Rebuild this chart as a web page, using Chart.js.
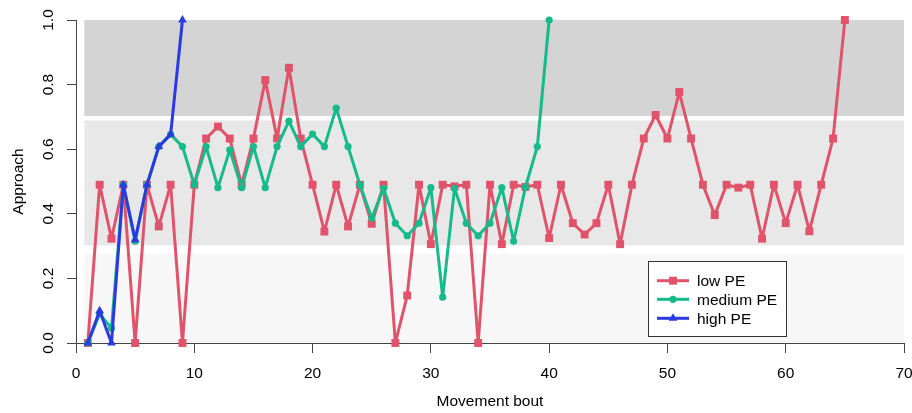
<!DOCTYPE html>
<html>
<head>
<meta charset="utf-8">
<script src="https://cdn.jsdelivr.net/npm/chart.js@4"></script>
<style>
html,body{margin:0;padding:0;background:#fff;}
#wrap{width:912px;height:413px;position:relative;}
</style>
</head>
<body>
<div id="wrap"><canvas id="c" width="912" height="413"></canvas></div>
<script>
// ---- data ----
const lowX = [];
for (let i = 1; i <= 65; i++) lowX.push(i);
const lowPE = [0, 0.49, 0.323, 0.49, 0, 0.49, 0.361, 0.49, 0, 0.49,
  0.633, 0.67, 0.633, 0.49, 0.633, 0.814, 0.633, 0.852, 0.633, 0.49,
  0.345, 0.49, 0.361, 0.49, 0.369, 0.49, 0, 0.147, 0.49, 0.306,
  0.49, 0.485, 0.49, 0, 0.49, 0.306, 0.49, 0.483, 0.49, 0.325,
  0.49, 0.371, 0.336, 0.371, 0.49, 0.306, 0.49, 0.633, 0.706, 0.633,
  0.777, 0.633, 0.49, 0.396, 0.49, 0.481, 0.49, 0.323, 0.49, 0.371,
  0.49, 0.346, 0.49, 0.633, 1.0];
const medX = [];
for (let i = 1; i <= 40; i++) medX.push(i);
const mediumPE = [0, 0.09, 0.046, 0.49, 0.315, 0.49, 0.608, 0.646, 0.608, 0.49,
  0.608, 0.481, 0.598, 0.481, 0.608, 0.481, 0.608, 0.687, 0.608, 0.647,
  0.608, 0.727, 0.608, 0.49, 0.387, 0.479, 0.371, 0.332, 0.371, 0.481,
  0.142, 0.479, 0.371, 0.332, 0.371, 0.481, 0.315, 0.483, 0.608, 1.0];
const highX = [1, 2, 3, 4, 5, 6, 7, 8, 9];
const highPE = [0, 0.1, 0, 0.49, 0.32, 0.49, 0.608, 0.646, 1.0];
const seriesNames = ['low PE', 'medium PE', 'high PE'];
const xTicks = [0, 10, 20, 30, 40, 50, 60, 70];
const yTicks = [0, 0.2, 0.4, 0.6, 0.8, 1.0];
const yTickLabels = ['0.0', '0.2', '0.4', '0.6', '0.8', '1.0'];
// background bands: x range, and y low/high of each band
const bandX = [0.7, 70];
const bandLow = [0.0, 0.302, 0.703];
const bandHigh = [0.276, 0.689, 1.0];

// ---- styles ----
const colors = ['#E0536B', '#17BA8B', '#2B3AE0'];
const bandColors = ['#F7F7F7', '#E8E8E8', '#D4D4D4'];
const FONT = '"Liberation Sans", Arial, Helvetica, sans-serif';

function toXY(xs, ys) { return xs.map((x, i) => ({x: x, y: ys[i]})); }

const bandPlugin = {
  id: 'bands',
  beforeDatasetsDraw(chart) {
    const {ctx, scales: {x, y}} = chart;
    ctx.save();
    for (let i = 0; i < bandLow.length; i++) {
      const x0 = x.getPixelForValue(bandX[0]);
      const x1 = x.getPixelForValue(bandX[1]);
      const y0 = y.getPixelForValue(bandHigh[i]);
      const y1 = y.getPixelForValue(bandLow[i]);
      ctx.fillStyle = bandColors[i];
      ctx.fillRect(x0, y0, x1 - x0, y1 - y0);
    }
    ctx.restore();
  }
};

const yLabelPlugin = {
  id: 'ylabels',
  afterDraw(chart) {
    const {ctx, scales: {y}} = chart;
    ctx.save();
    ctx.font = '15.5px ' + FONT;
    ctx.fillStyle = '#000';
    ctx.textAlign = 'center';
    ctx.textBaseline = 'middle';
    yTicks.forEach((v, i) => {
      const py = y.getPixelForValue(v);
      ctx.save();
      ctx.translate(49, py);
      ctx.rotate(-Math.PI / 2);
      ctx.fillText(yTickLabels[i], 0, 0);
      ctx.restore();
    });
    ctx.restore();
  }
};

const legendPlugin = {
  id: 'customLegend',
  afterDraw(chart) {
    const {ctx} = chart;
    const bx = 648.5, by = 261.5, bw = 138, bh = 75;
    ctx.save();
    ctx.fillStyle = '#fff';
    ctx.fillRect(bx, by, bw, bh);
    ctx.strokeStyle = '#333';
    ctx.lineWidth = 1;
    ctx.strokeRect(bx, by, bw, bh);
    const rows = [280.7, 299.3, 318.3];
    const styles = ['rect', 'circle', 'triangle'];
    const radii = [5.6, 3.6, 5];
    ctx.font = '15.5px ' + FONT;
    ctx.textBaseline = 'middle';
    ctx.textAlign = 'left';
    for (let i = 0; i < 3; i++) {
      const yy = rows[i];
      ctx.strokeStyle = colors[i];
      ctx.lineWidth = 3;
      ctx.beginPath();
      ctx.moveTo(657, yy);
      ctx.lineTo(689, yy);
      ctx.stroke();
      ctx.fillStyle = colors[i];
      Chart.helpers.drawPoint(ctx, {pointStyle: styles[i], radius: radii[i], borderWidth: 0, rotation: 0}, 673, yy);
      ctx.fillStyle = '#000';
      ctx.fillText(seriesNames[i], 697, yy + 1);
    }
    ctx.restore();
  }
};

const common = {
  showLine: true,
  borderWidth: 3,
  borderJoinStyle: 'round',
  borderCapStyle: 'round',
  tension: 0,
  clip: false,
  pointBorderWidth: 0,
  pointHoverRadius: 0
};

new Chart(document.getElementById('c'), {
  type: 'scatter',
  data: {
    datasets: [
      Object.assign({}, common, {
        label: seriesNames[0], data: toXY(lowX, lowPE),
        borderColor: colors[0], backgroundColor: colors[0],
        pointStyle: 'rect', pointRadius: 5.6, order: 3
      }),
      Object.assign({}, common, {
        label: seriesNames[1], data: toXY(medX, mediumPE),
        borderColor: colors[1], backgroundColor: colors[1],
        pointStyle: 'circle', pointRadius: 3.6, order: 2
      }),
      Object.assign({}, common, {
        label: seriesNames[2], data: toXY(highX, highPE),
        borderColor: colors[2], backgroundColor: colors[2],
        pointStyle: 'triangle', pointRadius: 5, order: 1
      })
    ]
  },
  options: {
    responsive: false,
    animation: false,
    devicePixelRatio: 1,
    layout: {padding: {top: 20, right: 8, left: 0, bottom: 0}},
    plugins: {legend: {display: false}, tooltip: {enabled: false}},
    events: [],
    scales: {
      x: {
        type: 'linear', min: 0, max: 70,
        afterBuildTicks(s) { s.ticks = xTicks.map(v => ({value: v})); },
        afterFit(s) { s.height = 70; s.paddingLeft = 0; s.paddingRight = 0; },
        grid: {drawOnChartArea: false, drawTicks: true, tickLength: 10, color: '#444', tickWidth: 1},
        border: {display: true, color: '#444', width: 1},
        ticks: {font: {size: 15.5, family: FONT}, color: '#000', padding: 11, maxRotation: 0},
        title: {display: true, text: 'Movement bout', color: '#000', font: {size: 15.5, family: FONT}, padding: {top: 0, bottom: 1.7}}
      },
      y: {
        type: 'linear', min: 0, max: 1,
        afterBuildTicks(s) { s.ticks = yTicks.map(v => ({value: v})); },
        afterFit(s) { s.width = 76; s.paddingTop = 0; s.paddingBottom = 0; },
        grid: {drawOnChartArea: false, drawTicks: true, tickLength: 9, color: '#444', tickWidth: 1},
        border: {display: true, color: '#444', width: 1},
        ticks: {display: false},
        title: {display: true, text: 'Approach', color: '#000', font: {size: 15.5, family: FONT}, padding: {top: 9.7, bottom: 0}}
      }
    }
  },
  plugins: [bandPlugin, yLabelPlugin, legendPlugin]
});
</script>
</body>
</html>
